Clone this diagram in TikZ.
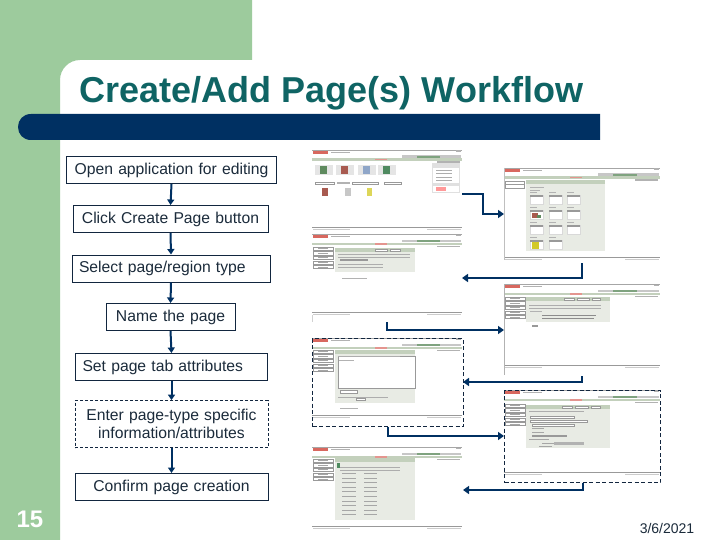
\documentclass[tikz,border=0pt]{standalone}
\usepackage{fontspec}
\setmainfont{Liberation Sans}
\usetikzlibrary{arrows.meta}
\definecolor{leaf}{HTML}{9DCB9D}
\definecolor{navy}{HTML}{003062}
\definecolor{teal1}{HTML}{0F6464}
\definecolor{boxline}{HTML}{12263F}
\definecolor{ink}{HTML}{1B2B3B}
\definecolor{panel}{HTML}{E8EBE4}
\definecolor{headbar}{HTML}{C3D0BC}
\definecolor{logo}{HTML}{D8685F}
\definecolor{tileA}{HTML}{5E8A5E}
\definecolor{tileB}{HTML}{A85A50}
\definecolor{tileC}{HTML}{8FA6C8}
\definecolor{tileD}{HTML}{4F8A60}
\definecolor{bandgreen}{HTML}{7FA37F}
\tikzset{
  stepbox/.style={draw=boxline,line width=1pt,minimum height=27pt,inner xsep=7pt,inner ysep=2pt,align=center,text=ink,font=\fontsize{15.7}{19}\selectfont},
  flow/.style={draw=navy,line width=2pt,-{Triangle[width=7pt,length=5.5pt]}},
  link/.style={draw=navy,line width=2pt,-{Triangle[width=8pt,length=6pt]}},
  shotframe/.style={draw=none,inner sep=0pt,minimum width=150pt},
  dashframe/.style={draw=boxline,dashed,dash pattern=on 4pt off 2.5pt,line width=1pt,inner sep=0pt},
  tabbox/.style={draw=black!40,line width=.4pt,fill=white},
  thumb/.style={fill=white,draw=black!15,line width=.3pt},
}
% browser chrome shared by all screenshots: width, height of the page area
\newcommand{\pagechrome}[2]{%
  \draw[black!35,line width=.6pt] (0,0) -- (#1,0);
  \fill[logo] (1,1) rectangle (16,4);
  \fill[black!30] (19,1.8) rectangle (38,3.4);
  \fill[black!30] (#1-6,0.5) rectangle (#1-1,2);
  \fill[black!22] (#1*0.6,5.5) rectangle (#1-1,8.2);
  \fill[bandgreen] (#1*0.7,6) rectangle (#1*0.85,8);
  \fill[headbar] (0,8.5) rectangle (#1,11);
  \fill[logo!70] (#1*.42,9) rectangle (#1*.5,10.5);
  \fill[black!30] (#1-25,11.5) rectangle (#1-2,13);
  \draw[black!40,line width=1pt] (0,#2-2.5) -- (#1,#2-2.5);
  \fill[black!20] (1,#2-1) rectangle (38,#2);
  \fill[black!20] (#1-35,#2-1) rectangle (#1-1,#2);
}
\newcommand{\sidetabs}[2]{% y start, count
  \foreach \i in {1,...,#2}{\draw[tabbox] (1.5,#1+\i*4.6-4.6) rectangle (21,#1+\i*4.6-1.4);
    \fill[black!35] (6,#1+\i*4.6-3.4) rectangle (16,#1+\i*4.6-2.6);}
}
\newcommand{\textrows}[4]{% x, y start, width, rows
  \foreach \i in {1,...,#4}{\fill[black!32] (#1,#2+\i*3.2) rectangle (#1+#3,#2+\i*3.2+1);}
}
\begin{document}
\begin{tikzpicture}[x=1pt,y=-1pt]
\useasboundingbox (0,0) rectangle (720,540);
\fill[white] (0,0) rectangle (720,540);
% background
\fill[leaf] (0,0) -- (252,0) -- (252,60) -- (80,60) .. controls (69,60) and (60,69) .. (60,80) -- (60,540) -- (0,540) -- cycle;
\fill[navy] (600,114) -- (31,114) .. controls (23,114) and (18,120) .. (18,127) .. controls (18,134) and (23,140) .. (31,140) -- (600,140) -- cycle;
\node[anchor=base,text=teal1,font=\bfseries\fontsize{36}{40}\selectfont,inner sep=0pt] (title) at (331.5,103) {Create/Add Page(s) Workflow};
\node[anchor=center,text=white,font=\bfseries\fontsize{24}{28}\selectfont,inner sep=0pt] (num) at (30,519) {15};
\node[anchor=center,text=ink,font=\fontsize{14}{16}\selectfont,inner sep=0pt] (date) at (667,528) {3/6/2021};

% workflow steps
\node[stepbox,inner xsep=2pt,text width=206pt] (b1) at (171.5,170) {Open application for editing};
\node[stepbox,text width=181pt] (b2) at (170.5,219) {Click Create Page button};
\node[stepbox,text width=184pt,align=left] (b3) at (171,268.5) {Select page/region type};
\node[stepbox,text width=115pt] (b4) at (170.5,317) {Name the page};
\node[stepbox,text width=178pt,align=left] (b5) at (171.5,367) {Set page tab attributes};
\node[stepbox,text width=179pt,dashed,dash pattern=on 3pt off 2pt,minimum height=47pt,line width=.8pt] (b6) at (171.5,424) {Enter page-type specific\\[-0.5pt]information/attributes};
\node[stepbox,text width=179pt] (b7) at (171.5,487) {Confirm page creation};
\draw[flow] (b1.south) -- (b2.north);
\draw[flow] (b2.south) -- (b3.north);
\draw[flow] (b3.south) -- (b4.north);
\draw[flow] (b4.south) -- (b5.north);
\draw[flow] (b5.south) -- (b6.north);
\draw[flow] (b6.south) -- (b7.north);

% screenshot 1: application home
\begin{scope}[shift={(312,150)}]
\pagechrome{150}{80}
\fill[black!10] (3,15) rectangle (21,25);
\fill[tileA] (8,16) rectangle (15,24);
\fill[black!10] (24,15) rectangle (42,25);
\fill[tileB] (29,16) rectangle (36,24);
\fill[black!10] (46,15) rectangle (64,25);
\fill[tileC] (51,16) rectangle (58,24);
\fill[black!10] (66,15) rectangle (84,25);
\fill[tileD] (71,16) rectangle (78,24);
\draw[tabbox] (3,32) rectangle (22,34);
\fill[black!30] (25,32) rectangle (38,34);
\draw[tabbox] (40,32) rectangle (66,34);
\draw[tabbox] (72,32) rectangle (89,34.5);
\fill[tileB] (10,38) rectangle (16,46);
\fill[black!22] (33,38) rectangle (39,46);
\fill[yellow!50!olive!60] (55,38) rectangle (60,46);
\fill[black!12] (120,13) rectangle (148,43);
\fill[white] (121,18) rectangle (147,33);
\fill[white] (121,36) rectangle (147,42);
\textrows{124}{17}{16}{4}
\fill[red!40] (124,37) rectangle (134,41);
\end{scope}
\node[shotframe,minimum height=79pt,anchor=north west] (s1) at (312,150) {};

% screenshot 2: select type
\begin{scope}[shift={(312,234)}]
\pagechrome{150}{81}
\draw[black!18,line width=.4pt] (0,81) -- (0,88);
\fill[panel] (23,14) rectangle (103,38);
\fill[headbar] (23,14) rectangle (103,18);
\draw[tabbox] (63,15) rectangle (75,17.5);
\draw[tabbox] (78,15) rectangle (88,17.5);
\sidetabs{13}{5}
\textrows{26}{17}{72}{2}
\draw[tabbox,fill=white] (28,25) rectangle (55,26.5);
\textrows{26}{27}{45}{2}
\fill[black!30] (30,44) rectangle (55,45);
\end{scope}
\node[shotframe,minimum height=89pt,anchor=north west] (s2) at (312,233) {};

% screenshot 3: tab attributes (dashed)
\begin{scope}[shift={(312,338)}]
\pagechrome{150}{80}
\fill[panel] (23,12) rectangle (103,65);
\fill[headbar] (23,12) rectangle (103,16);
\draw[tabbox,fill=white] (26,18) rectangle (103,50);
\sidetabs{12}{5}
\textrows{26}{15}{62}{1}
\fill[black!30] (27,22) rectangle (42,23);
\draw[tabbox] (28,52) rectangle (45,55);
\textrows{26}{56}{50}{1}
\draw[tabbox] (44,60) rectangle (53,62);
\fill[black!30] (28,70) rectangle (46,71);
\end{scope}
\node[dashframe,minimum width=151pt,minimum height=88pt,anchor=north west] (s3) at (312,338) {};

% screenshot 4: confirm
\begin{scope}[shift={(312,447)}]
\pagechrome{150}{82}
\fill[panel] (23,11) rectangle (103,73);
\fill[headbar] (23,11) rectangle (103,15);
\sidetabs{12}{5}
\fill[tileD] (25,16) rectangle (28,21);
\textrows{28}{17}{60}{2}
\foreach \r in {0,...,9}{\fill[black!35] (30,26+\r*4.6) rectangle (44,27+\r*4.6);
  \fill[black!35] (52,26+\r*4.6) rectangle (65,27+\r*4.6);}
\end{scope}
\node[shotframe,minimum height=86pt,anchor=north west] (s4) at (312,446) {};

% screenshot A: page type thumbnails
\begin{scope}[shift={(504,168)}]
\pagechrome{156}{92}
\draw[black!25,line width=.4pt] (0,0) -- (0,92);
\draw[tabbox] (1,13) rectangle (20,16);
\draw[tabbox] (1,16) rectangle (20,20);
\fill[panel] (22,12) rectangle (101,83);
\fill[headbar] (22,12) rectangle (101,16);
\foreach \xx in {26,45,63}{\foreach \yy in {27,42,57,72}{
  \draw[thumb] (\xx,\yy) rectangle (\xx+13,\yy+9);
  \fill[black!40] (\xx,\yy) rectangle (\xx+13,\yy+1.6);
  \fill[black!30] (\xx,\yy-3) rectangle (\xx+7,\yy-2.2);
}}
\fill[tileB] (28,45) rectangle (34,50);
\fill[tileA] (33,47) rectangle (37,50);
\fill[yellow!80!black] (28,74) rectangle (35,81);
\fill[panel] (62,68) rectangle (78,83);
\fill[black!30] (26,19) rectangle (40,20);
\fill[black!30] (26,22) rectangle (36,23);
\end{scope}
\node[shotframe,minimum width=156pt,minimum height=95pt,anchor=north west] (sA) at (504,168) {};

% screenshot B: name the page
\begin{scope}[shift={(504,284)}]
\pagechrome{156}{84}
\draw[black!30,line width=.5pt] (0,0) -- (0,91);
\fill[panel] (22,13) rectangle (106,38);
\fill[headbar] (22,13) rectangle (106,17);
\sidetabs{13}{5}
\draw[tabbox] (60,14) rectangle (70,16.5);
\draw[tabbox] (73,14) rectangle (85,16.5);
\draw[tabbox] (88,14) rectangle (96,16.5);
\textrows{25}{18}{72}{2}
\fill[black!30] (26,27) rectangle (38,28);
\fill[black!45] (38,31) rectangle (92,32);
\fill[black!45] (38,34) rectangle (90,35);
\fill[black!40] (28,41) rectangle (34,42.5);
\end{scope}
\node[shotframe,minimum width=156pt,minimum height=92pt,anchor=north west] (sB) at (504,284) {};

% screenshot C: type specific attributes (dashed)
\begin{scope}[shift={(504,390)}]
\pagechrome{156}{85}
\fill[panel] (22,15) rectangle (106,58);
\fill[headbar] (22,15) rectangle (106,18.5);
\sidetabs{14}{5}
\draw[tabbox] (58,16) rectangle (68,18);
\draw[tabbox] (71,16) rectangle (84,18);
\draw[tabbox] (87,16) rectangle (96,18);
\textrows{25}{18}{55}{1}
\draw[tabbox] (26,26) rectangle (70,28);
\draw[tabbox] (26,30) rectangle (83,32);
\draw[tabbox] (28,34) rectangle (70,36);
\fill[black!35] (28,38) rectangle (40,39);
\fill[black!35] (28,42) rectangle (40,43);
\draw[tabbox] (28,45) rectangle (62,46.5);
\fill[black!35] (25,49) rectangle (45,50);
\fill[black!35] (38,53) rectangle (50,54);
\fill[black!30] (50,52) rectangle (80,55);
\fill[black!35] (35,56) rectangle (48,57);
\end{scope}
\node[dashframe,minimum width=156pt,minimum height=92pt,anchor=north west] (sC) at (504,390) {};

% connectors between screenshots
\coordinate (o1) at (462,194);
\coordinate (k1) at (483,194);
\coordinate (iA) at (504,214);
\coordinate (i2) at (462,278);
\coordinate (iB) at (504,330);
\coordinate (i3) at (463,382);
\coordinate (iC) at (504,436);
\coordinate (i4) at (463,490);
\draw[link] (o1) -- (k1) |- (iA);
\draw[link] (sA.south) |- (i2);
\draw[link] (s2.south) |- (iB);
\draw[link] (sB.south) |- (i3);
\draw[link] (s3.south) |- (iC);
\draw[link] (sC.south) |- (i4);
\end{tikzpicture}
\end{document}
